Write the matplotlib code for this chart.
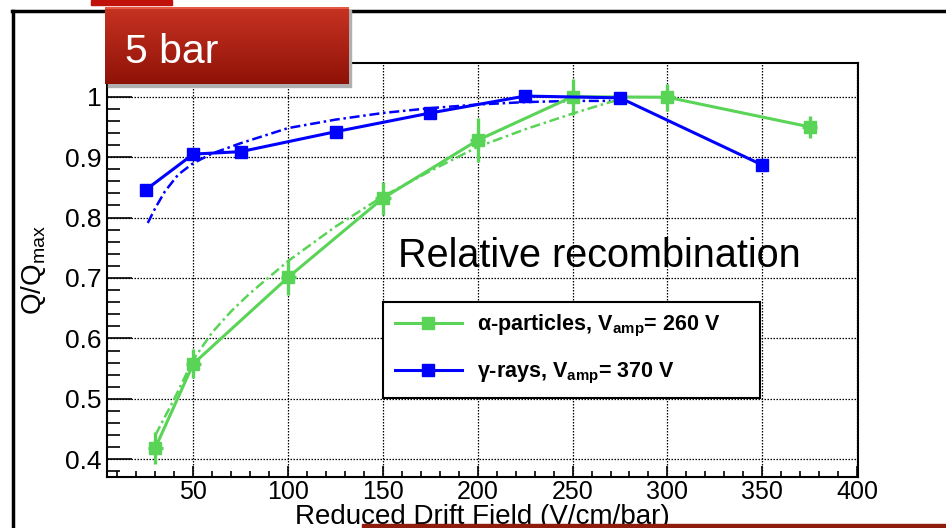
import numpy as np
import matplotlib
matplotlib.use("Agg")
import matplotlib.pyplot as plt
from matplotlib.lines import Line2D
from matplotlib.patches import Rectangle
from matplotlib.ticker import MultipleLocator

plt.rcParams['font.family'] = ['Liberation Sans', 'DejaVu Sans']
plt.rcParams['mathtext.fontset'] = 'custom'
plt.rcParams['mathtext.rm'] = 'Liberation Sans'
plt.rcParams['mathtext.bf'] = 'Liberation Sans:bold'

# alpha-particles, Vamp = 260 V
alpha_x = [30, 50, 100, 150, 200, 250, 300, 375]
alpha_y = [0.419, 0.558, 0.701, 0.832, 0.928, 1.0, 0.999, 0.950]
alpha_yerr = [0.026, 0.024, 0.029, 0.027, 0.036, 0.030, 0.022, 0.018]
alpha_xerr = [4, 4, 4, 4, 4, 4, 4, 4]

# gamma-rays, Vamp = 370 V
gamma_x = [25, 50, 75, 125, 175, 225, 275, 350]
gamma_y = [0.846, 0.905, 0.909, 0.942, 0.973, 1.001, 0.998, 0.887]

# dash-dotted fit curves
alpha_fit_x = [30, 40, 50, 60, 70, 80, 100, 125, 150, 175, 200, 225, 250, 275]
alpha_fit_y = [0.44, 0.50, 0.565, 0.61, 0.645, 0.675, 0.728, 0.785, 0.835,
               0.877, 0.917, 0.946, 0.972, 0.996]
gamma_fit_x = [26, 30, 35, 42, 50, 60, 75, 100, 125, 150, 175, 200, 225, 250, 270]
gamma_fit_y = [0.791, 0.816, 0.843, 0.871, 0.89, 0.906, 0.923, 0.948, 0.962,
               0.973, 0.981, 0.987, 0.991, 0.993, 0.993]

y_ticks = [0.4, 0.5, 0.6, 0.7, 0.8, 0.9, 1.0]
y_ticklabels = ['0.4', '0.5', '0.6', '0.7', '0.8', '0.9', '1']
x_ticks = [50, 100, 150, 200, 250, 300, 350, 400]

green = '#5ad457'
blue = '#0000ff'
W, H = 946, 528

fig = plt.figure(figsize=(W / 100, H / 100), dpi=100)
ax = fig.add_axes([107 / W, 1 - 477 / H, 751 / W, 414 / H])

ax.set_xlim(4.5, 400.5)
ax.set_ylim(0.3707, 1.0557)
ax.set_xticks(x_ticks)
ax.set_yticks(y_ticks)
ax.set_yticklabels(y_ticklabels)
ax.xaxis.set_minor_locator(MultipleLocator(10))
ax.yaxis.set_minor_locator(MultipleLocator(0.02))
ax.tick_params(axis='both', which='both', direction='in', labelsize=19,
               top=False, right=False, width=1.2, color='k')
ax.tick_params(axis='x', which='major', length=8, pad=2, labelsize=18)
ax.tick_params(axis='x', which='minor', length=4)
ax.tick_params(axis='y', which='major', length=18, pad=4)
ax.tick_params(axis='y', which='minor', length=9)
ax.grid(True, which='major', color='k', linestyle=(0, (1.2, 1.2)), linewidth=0.9)
for s in ax.spines.values():
    s.set_linewidth(1.5)

dashdot = (0, (4, 1.5, 1, 1.5))
ax.plot(gamma_fit_x, gamma_fit_y, color=blue, lw=1.8, linestyle=dashdot, zorder=3)
ax.plot(alpha_fit_x, alpha_fit_y, color=green, lw=1.8, linestyle=dashdot, zorder=3)
ax.errorbar(alpha_x, alpha_y, yerr=alpha_yerr, xerr=alpha_xerr, color=green,
            lw=2.2, elinewidth=2.4, marker='s', ms=8.5, capsize=0, zorder=4)
ax.plot(gamma_x, gamma_y, color=blue, lw=2.2, marker='s', ms=8.5, zorder=5)

ax.set_xlabel('Reduced Drift Field (V/cm/bar)', fontsize=20, labelpad=0)
ax.set_ylabel('Q/Q$_{\\mathrm{max}}$', fontsize=20, labelpad=12)

handles = [Line2D([], [], color=green, lw=2.2, marker='s', ms=8.5),
           Line2D([], [], color=blue, lw=2.2, marker='s', ms=8.5)]
labels = ['\u03b1-particles, V$_{\\mathbf{amp}}$= 260 V',
          '\u03b3-rays, V$_{\\mathbf{amp}}$= 370 V']
leg = ax.legend(handles, labels, loc='lower left',
                bbox_to_anchor=(0.3675, 0.191, 0.502, 0.232), mode='expand',
                prop={'weight': 'bold', 'size': 15.5}, frameon=True, fancybox=False,
                edgecolor='k', framealpha=1, borderpad=0.55, labelspacing=1.0,
                handlelength=3.1, handletextpad=0.7, borderaxespad=0)
leg.get_frame().set_linewidth(1.5)

fig.text(398 / W, 1 - 267 / H, 'Relative recombination', fontsize=28.5,
         va='baseline')

# slide decorations
fig.add_artist(Line2D([12.5 / W, 12.5 / W], [0, 1 - 10.5 / H], color='k', lw=2.5,
                      transform=fig.transFigure, zorder=10))
fig.add_artist(Line2D([12 / W, 1], [1 - 10.5 / H, 1 - 10.5 / H], color='k', lw=2.5,
                      transform=fig.transFigure, zorder=10))
fig.add_artist(Rectangle((91 / W, 1 - 5 / H), 81 / W, 5 / H, color='#c0120a',
                         transform=fig.transFigure, zorder=10))
fig.add_artist(Rectangle((362 / W, 0), (W - 362) / W, 4 / H, color='#8f1c0c',
                         transform=fig.transFigure, zorder=10))

# "5 bar" box
fig.add_artist(Rectangle((108 / W, 1 - 87 / H), 243 / W, 77 / H, color='#b0b0b0',
                         transform=fig.transFigure, zorder=11))
bx = fig.add_axes([105 / W, 1 - 84 / H, 243 / W, 77 / H], zorder=12)
top = np.array([0.78, 0.20, 0.13])
bot = np.array([0.56, 0.07, 0.03])
t = np.linspace(0, 1, 77)[:, None, None]
grad = top * (1 - t) + bot * t
grad[:2] = [0.90, 0.35, 0.27]
bx.imshow(grad, aspect='auto', extent=[0, 1, 0, 1])
bx.set_axis_off()
bx.text(20 / 243, 1 - 56 / 77, '5 bar', color='white', fontsize=29.5,
        va='baseline', transform=bx.transAxes)

fig.savefig('out.png', dpi=100)
